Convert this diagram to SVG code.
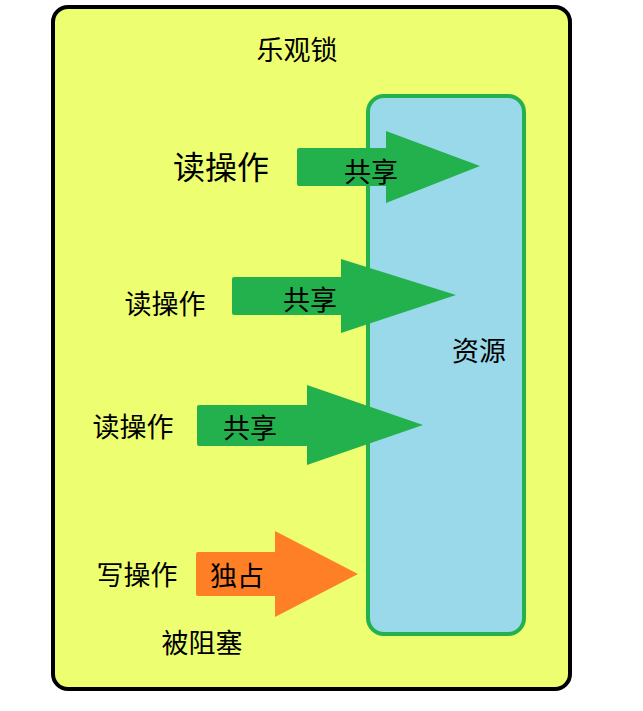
<svg xmlns="http://www.w3.org/2000/svg" width="643" height="711" viewBox="0 0 643 711">
<style>
text{font-family:"Noto Sans CJK SC","Noto Sans",sans-serif;fill:#000;text-anchor:middle;dominant-baseline:central}
.t{font-size:27px}
.big{font-size:32px}
.share{fill:#22B14C}
.excl{fill:#FF7F27}
</style>
<rect width="643" height="711" fill="#fff"/>
<g id="optimistic-lock">
<rect x="53" y="7" width="517" height="682" rx="15" fill="#EDFF71" stroke="#000" stroke-width="4"/>
<text class="t" x="297" y="48">乐观锁</text>
</g>
<g id="resource">
<rect x="368" y="96" width="156" height="538" rx="16" fill="#99D9EA" stroke="#22B14C" stroke-width="4"/>
<text class="t" x="479" y="349">资源</text>
</g>
<g id="read1"><text class="big" x="221" y="165">读操作</text></g>
<g id="read2"><text class="t" x="165" y="302">读操作</text></g>
<g id="read3"><text class="t" x="133" y="425">读操作</text></g>
<g id="write"><text class="t" x="137" y="573">写操作</text></g>
<g id="blocked"><text class="t" x="202" y="641">被阻塞</text></g>
<g id="connectors">
<path class="share" d="M297,150 Q297,148 299,148 L386,148 L386,131 L480,166 L386,203 L386,186 L299,186 Q297,186 297,184 Z"/>
<text class="t" x="371" y="170">共享</text>
<path class="share" d="M232,279 Q232,277 234,277 L341,277 L341,259 L456,295 L341,333 L341,315 L234,315 Q232,315 232,313 Z"/>
<text class="t" x="310" y="298">共享</text>
<path class="share" d="M197,407 Q197,405 199,405 L307,405 L307,385 L423,425 L307,465 L307,446 L199,446 Q197,446 197,444 Z"/>
<text class="t" x="250" y="426">共享</text>
<path class="excl" d="M196,554 Q196,552 198,552 L275,552 L275,531 L358,574 L275,617 L275,596 L198,596 Q196,596 196,594 Z"/>
<text class="t" x="237" y="574">独占</text>
</g>
</svg>
